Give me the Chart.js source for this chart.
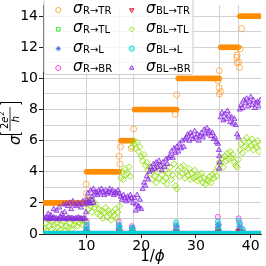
<!DOCTYPE html>
<html><head><meta charset="utf-8">
<style>html,body{margin:0;padding:0;background:#fff;overflow:hidden}canvas{display:block}</style>
<script src="https://cdn.jsdelivr.net/npm/chart.js@4.4.0/dist/chart.umd.min.js"></script>
</head><body>
<canvas id="c" width="266" height="266" style="width:266px;height:266px"></canvas>
<script>
// ---- data ----
const phiInv = [
 2.25,2.5,2.75,3,3.25,3.5,3.75,4,4.25,4.5,4.75,5,5.25,5.5,5.75,6,6.25,6.5,6.75,7,7.25,7.5,7.75,8,8.25,8.5,8.75,9,9.25,9.5,9.75,
 10,10.25,10.5,10.75,11,11.25,11.5,11.75,12,12.25,12.5,12.75,13,13.25,13.5,13.75,14,14.25,14.5,14.75,15,15.25,15.5,15.75,16,
 16.25,16.5,16.75,17,17.25,17.5,17.75,18,18.25,18.5,
 18.75,19,19.25,19.5,19.75,20,20.25,20.5,20.75,21,21.25,21.5,21.75,22,22.25,22.5,22.75,23,23.25,23.5,23.75,24,24.25,24.5,24.75,25,25.25,25.5,25.75,26,26.25,26.5,
 26.75,27,27.25,27.5,27.75,28,28.25,28.5,28.75,29,29.25,29.5,29.75,30,30.25,30.5,30.75,31,31.25,31.5,31.75,32,32.25,32.5,32.75,33,33.25,33.5,33.75,34,34.25,
 34.5,34.75,35,35.25,35.5,35.75,36,36.25,36.5,36.75,37,37.25,37.5,37.75,
 38,38.25,38.5,38.75,39,39.25,39.5,39.75,40,40.25,40.5,40.75,41,41.25,41.5,41.75
];
const sigR_TR = [
 2,2,2,2,2,2,2,2,2,2,2,2,2,2,2,2,2,2,2,2,2,2,2,2,2,2,2,2,2,2,2,
 4,4,4,4,4,4,4,4,4,4,4,4,4,4,4,4,4,4,4,4,4,4,4,4,4,
 6,6,6,6,6,6,6,6,6,6,
 8,8,8,8,8,8,8,8,8,8,8,8,8,8,8,8,8,8,8,8,8,8,8,8,8,8,8,8,8,8,8,8,
 10,10,10,10,10,10,10,10,10,10,10,10,10,10,10,10,10,10,10,10,10,10,10,10,10,10,10,10,10,10,10,
 12,12,12,12,12,12,12,12,12,12,12,12,12,12,
 14,14,14,14,14,14,14,14,14,14,14,14,14,14,14,14
];
const sigR_TR_outX = [9.95,9.95,10.0,16.1,16.2,15.95,18.6,18.2,26.45,26.2,34.05,34.2,34.5,34.25,34.25,37.45,37.5,37.5,37.8,37.95,38.35,38.05];
const sigR_TR_outY = [3.2,2.6,2.2,4.5,5.6,5.0,6.75,5.5,8.95,7.7,9.85,9.4,9.15,10.5,9.0,11.35,11.0,11.5,11.05,10.7,13.2,11.9];

const sigBL_TL = [
 0.4,0.7,0.2,0.9,0.5,0.3,0.8,0.6,0.1,0.7,0.4,0.9,0.3,0.6,0.8,0.2,0.5,1.0,0.4,0.7,0.3,0.9,0.6,0.8,0.5,1.0,0.7,0.9,0.6,1.0,0.8,
 2.0,1.6,2.2,1.8,1.4,2.1,1.7,1.9,1.3,1.6,1.2,1.5,1.0,1.4,1.7,1.1,1.5,1.3,0.9,1.4,1.2,1.6,1.0,1.4,1.8,
 3.6,4.0,3.5,4.2,3.8,3.9,4.3,3.7,5.6,6.0,
 5.8,5.5,5.9,5.3,5.6,5.0,4.7,5.1,4.4,4.6,4.1,4.3,3.9,3.5,4.2,3.7,3.3,4.0,3.6,4.4,3.8,3.4,4.1,3.6,3.2,3.9,4.3,3.5,3.8,4.5,3.1,2.9,
 4.1,3.7,4.3,3.9,4.4,3.6,4.0,3.8,4.2,3.5,3.9,3.6,4.1,3.7,3.4,3.8,3.5,3.9,3.3,3.6,3.2,3.5,3.4,3.7,3.3,3.8,3.6,4.0,3.7,4.3,4.6,
 4.5,4.9,4.3,5.0,4.7,5.2,4.8,5.3,4.9,5.1,4.6,4.4,4.3,4.8,
 5.4,5.8,5.2,6.0,5.6,6.2,5.5,5.9,5.7,6.1,5.4,5.8,5.6,6.0,5.3,5.7
];
const sigBL_BR = [
 1.0,1.0,1.05,1.0,0.95,1.0,1.0,1.05,1.0,1.0,0.95,1.0,1.05,1.0,1.0,1.0,0.95,1.0,1.05,1.0,1.0,1.0,0.95,1.0,1.0,1.05,1.0,1.0,0.95,1.0,1.0,
 2.2,2.6,2.0,2.8,2.4,2.9,2.6,2.7,2.5,2.8,2.6,2.9,2.7,2.5,2.8,2.6,2.7,2.9,2.6,2.8,2.5,2.7,2.6,2.8,2.6,
 2.4,2.2,2.5,2.3,2.1,2.4,2.2,2.5,2.3,2.0,
 2.3,1.9,2.5,1.7,2.2,1.6,2.9,3.3,3.1,3.7,3.5,4.0,4.3,4.1,4.5,4.2,4.6,4.3,4.7,4.4,4.1,4.6,4.3,4.8,4.5,4.9,5.0,5.3,4.9,5.5,5.2,5.6,
 5.3,5.8,5.5,6.0,5.6,6.1,6.2,6.4,6.0,6.5,6.3,6.1,6.6,6.2,6.4,6.0,6.3,6.5,6.2,6.7,6.4,6.8,6.5,6.6,6.3,6.5,6.1,6.2,5.9,5.8,5.0,
 7.5,7.8,7.3,7.7,7.4,7.9,7.6,7.2,7.5,7.1,7.4,7.0,6.4,6.2,
 8.0,8.3,8.1,8.6,8.4,8.7,8.2,8.5,8.8,8.3,8.6,8.1,8.4,8.5,8.2,8.6
];
const sigBL_BR_outX = [3.0,3.5,4.0,4.5,5.0,5.5,5.8,6.0,6.3,6.6,6.9,7.2,7.5,7.8,8.1,8.4,8.7,9.0,9.3,9.6,9.9,10.1,10.4,10.7,11.0,11.3,34.2,34.3,34.2,19.0,19.5];
const sigBL_BR_outY = [1.3,1.2,1.6,1.5,1.7,1.3,1.9,1.4,1.95,1.8,2.0,1.6,2.1,1.9,1.8,2.0,1.9,1.7,2.1,1.9,1.4,2.0,2.1,1.95,2.2,2.0,4.2,4.6,5.4,1.5,1.8];

const sigR_TL = [
 0,0,0,0,0,0,0,0,0,0,0,0,0,0,0,0,0,0,0,0,0,0,0,0,0,0,0,0,0,0,0,0,0,0,0,0,0,0,0,0,
 0,0,0,0,0,0,0,0,0,0,0,0,0,0,0,0,0,0,0,0,0,0,0,0,0,0,0,0,0,0,0,0,0,0,0,0,0,0,0,0,
 0,0,0,0,0,0,0,0,0,0,0,0,0,0,0,0,0,0,0,0,0,0,0,0,0,0,0,0,0,0,0,0,0,0,0,0,0,0,0,0,
 0,0,0,0,0,0,0,0,0,0,0,0,0,0,0,0,0,0,0,0,0,0,0,0,0,0,0,0,0,0,0,0,0,0,0,0,0,0,0
];
const sigR_L = sigR_TL.slice();
const sigR_BR = sigR_TL.slice();
const sigBL_TR = sigR_TL.slice();
const sigBL_L = [
 0.01,0.01,0.01,0.01,0.01,0.01,0.01,0.01,0.01,0.01,0.01,0.01,0.01,0.01,0.01,0.01,0.01,0.01,0.01,0.01,
 0.01,0.01,0.01,0.01,0.01,0.01,0.01,0.01,0.01,0.01,0.01,0.01,0.01,0.01,0.01,0.01,0.01,0.01,0.01,0.01,
 0.01,0.01,0.01,0.01,0.01,0.01,0.01,0.01,0.01,0.01,0.01,0.01,0.01,0.01,0.01,0.01,0.01,0.01,0.01,0.01,
 0.01,0.01,0.01,0.01,0.01,0.01,0.01,0.01,0.01,0.01,0.01,0.01,0.01,0.01,0.01,0.01,0.01,0.01,0.01,0.01,
 0.01,0.01,0.01,0.01,0.01,0.01,0.01,0.01,0.01,0.01,0.01,0.01,0.01,0.01,0.01,0.01,0.01,0.01,0.01,0.01,
 0.01,0.01,0.01,0.01,0.01,0.01,0.01,0.01,0.01,0.01,0.01,0.01,0.01,0.01,0.01,0.01,0.01,0.01,0.01,0.01,
 0.01,0.01,0.01,0.01,0.01,0.01,0.01,0.01,0.01,0.01,0.01,0.01,0.01,0.01,0.01,0.01,0.01,0.01,0.01,0.01,
 0.01,0.01,0.01,0.01,0.01,0.01,0.01,0.01,0.01,0.01,0.01,0.01,0.01,0.01,0.01,0.01,0.01,0.01,0.01
];
// spikes of the small channels at the plateau transitions
const spikeX    = [9.95,10.05,10.15,15.9,16.0,16.1,18.3,18.4,18.5,26.35,26.45,26.55,34.0,34.1,34.2,37.8,38.0,38.5];
const spikeR_TL = [0.3,0.1,0.0,0.3,0.2,0.0,0.2,0.1,0.0,0.2,0.1,0.0,0.35,0.15,0.0,0.2,0.1,0.05];
const spikeR_L  = [0.2,0.4,0.1,0.3,0.5,0.1,0.2,0.4,0.1,0.3,0.5,0.1,0.4,0.6,0.1,0.3,0.5,0.2];
const spikeR_BR = [0.5,0.8,0.2,0.8,0.5,0.2,0.5,0.3,0.1,0.55,0.35,0.1,1.1,0.6,0.2,1.0,0.7,0.3];
const spikeBL_TR= [0.1,0.15,0.05,0.1,0.2,0.05,0.1,0.15,0.05,0.1,0.15,0.05,0.15,0.2,0.05,0.2,0.1,0.05];
const spikeBL_L = [0.3,0.6,0.15,0.6,0.4,0.15,0.4,0.25,0.1,0.75,0.5,0.15,0.8,0.5,0.2,0.85,0.6,0.3];

const xTickLabels = [10,20,30,40];
const xGridLines = [10,16.1,18.6,26.55,34.25,37.8];
const yTicks = [0,1,2,3,4,5,6,7,8,9,10,11,12,13,14];
const yTickLabels = [0,2,4,6,8,10,12,14];
const legendSubs = ['R\u2192TR','R\u2192TL','R\u2192L','R\u2192BR','BL\u2192TR','BL\u2192TL','BL\u2192L','BL\u2192BR'];
const xTitleMain = '1/', xTitleVar = '\u03d5';

// ---- build datasets ----
function pts(xs, ys){ return xs.map((x,i)=>({x:x, y:ys[i]})); }
const styles = [
 {pointStyle:'circle',   border:'rgba(255,140,0,0.75)',  bg:'rgba(255,140,0,0)',    r:3,   rot:0},
 {pointStyle:'rect',     border:'rgba(20,230,20,0.8)',   bg:'rgba(20,230,20,0.1)',  r:2.6, rot:0},
 {pointStyle:'star',     border:'rgba(65,105,225,0.9)',  bg:'rgba(65,105,225,0.3)', r:3.2, rot:0},
 {pointStyle:'circle',   border:'rgba(240,60,220,0.8)',  bg:'rgba(240,60,220,0.1)', r:2.6, rot:0},
 {pointStyle:'triangle', border:'rgba(220,20,60,0.9)',   bg:'rgba(220,20,60,0.4)',  r:3,   rot:180},
 {pointStyle:'rectRot',  border:'rgba(140,220,0,0.8)',   bg:'rgba(140,220,0,0.08)', r:3.2, rot:0},
 {pointStyle:'circle',   border:'rgba(0,215,215,0.9)',   bg:'rgba(0,215,215,0.3)',  r:2.5, rot:0},
 {pointStyle:'triangle', border:'rgba(138,43,226,0.8)',  bg:'rgba(138,43,226,0.3)', r:3,   rot:0}
];
const series = [
 pts(phiInv, sigR_TR).concat(pts(sigR_TR_outX, sigR_TR_outY)),
 pts(phiInv, sigR_TL).concat(pts(spikeX, spikeR_TL)),
 pts(phiInv, sigR_L).concat(pts(spikeX, spikeR_L)),
 pts(phiInv, sigR_BR).concat(pts(spikeX, spikeR_BR)),
 pts(phiInv, sigBL_TR).concat(pts(spikeX, spikeBL_TR)),
 pts(phiInv, sigBL_TL),
 pts(phiInv, sigBL_L).concat(pts(spikeX, spikeBL_L)),
 pts(phiInv, sigBL_BR).concat(pts(sigBL_BR_outX, sigBL_BR_outY))
];
const datasets = series.map((d,i)=>({
  label: legendSubs[i], data: d, showLine:false,
  pointStyle: styles[i].pointStyle, pointRadius: styles[i].r, pointRotation: styles[i].rot,
  pointBorderWidth: 1, borderColor: styles[i].border, backgroundColor: styles[i].bg,
  pointBorderColor: styles[i].border, pointBackgroundColor: styles[i].bg,
  order: series.length - i, clip: 0
}));
// plateau points of sigma_R->TR overlap into a solid band; outliers stay hollow
datasets[0].pointBackgroundColor = c => c.dataIndex < sigR_TR.length ? 'rgba(255,140,0,0.85)' : 'rgba(255,140,0,0)';
datasets[0].pointBorderColor = c => c.dataIndex < sigR_TR.length ? 'rgba(255,140,0,0.9)' : 'rgba(255,150,30,0.7)';
datasets[0].pointRadius = c => c.dataIndex < sigR_TR.length ? 2.4 : 3;

const FONT = '"DejaVu Sans", sans-serif';
const xTickValues = Array.from(new Set(xTickLabels.concat(xGridLines))).sort((a,b)=>a-b);

const decorations = {
  id: 'decorations',
  afterDatasetsDraw(chart){
    const c = chart.ctx;
    c.save();
    // legend box
    c.beginPath();
    if (c.roundRect) c.roundRect(44, -4, 149, 78.5, 3); else c.rect(44,-4,149,78.5);
    c.fillStyle = 'rgba(255,255,255,0.8)'; c.fill();
    c.strokeStyle = '#cccccc'; c.lineWidth = 1; c.stroke();
    const mx = [58.3, 131.7], tx = [73, 146], ry = [10, 29.3, 48.6, 68];
    for (let i=0;i<8;i++){
      const col = i<4?0:1, row = i%4, s = styles[i];
      c.fillStyle = i===0 ? 'rgba(255,140,0,0)' : s.bg; c.strokeStyle = s.border; c.lineWidth = 1;
      Chart.helpers.drawPoint(c, {pointStyle:s.pointStyle, radius:2.6, rotation:s.rot, borderWidth:1}, mx[col], ry[row]);
      c.fillStyle = '#000'; c.textBaseline = 'alphabetic'; c.textAlign = 'left';
      c.font = 'italic 15px ' + FONT;
      c.fillText('\u03c3', tx[col], ry[row]+3);
      const w = c.measureText('\u03c3').width;
      c.font = '10px ' + FONT;
      c.fillText(legendSubs[i], tx[col]+w+0.5, ry[row]+4);
    }
    c.restore();
  },
  afterDraw(chart){
    const c = chart.ctx;
    c.save();
    c.fillStyle = '#000'; c.strokeStyle = '#000';
    c.textBaseline = 'alphabetic'; c.textAlign = 'left';
    // x title
    c.font = '15px ' + FONT; const wa = c.measureText(xTitleMain).width;
    c.font = 'italic 15px ' + FONT; const wb = c.measureText(xTitleVar).width;
    const ca = chart.chartArea; const cx = (ca.left + ca.right)/2 + 0.5;
    let x0 = cx - (wa+wb)/2;
    c.font = '15px ' + FONT; c.fillText(xTitleMain, x0, 261);
    c.font = 'italic 15px ' + FONT; c.fillText(xTitleVar, x0+wa, 261);
    // y title  sigma [2e^2/h], rotated
    c.translate(19.5, 145); c.rotate(-Math.PI/2);
    c.font = 'italic 15px ' + FONT; c.fillText('\u03c3', 0, 0);
    c.lineWidth = 1;
    c.beginPath();
    c.moveTo(12.5,-19); c.lineTo(10.5,-19); c.lineTo(10.5,2); c.lineTo(12.5,2);
    c.moveTo(40.5,-19); c.lineTo(42.5,-19); c.lineTo(42.5,2); c.lineTo(40.5,2);
    c.stroke();
    c.beginPath(); c.lineWidth = 0.8; c.moveTo(14,-9.5); c.lineTo(38,-9.5); c.stroke();
    c.font = '10px ' + FONT; c.fillText('2', 16, -11.5);
    const w2 = c.measureText('2').width;
    c.font = 'italic 10px ' + FONT; c.fillText('e', 16+w2, -11.5);
    const we = c.measureText('e').width;
    c.font = '7px ' + FONT; c.fillText('2', 16+w2+we+0.5, -15.5);
    c.font = 'italic 10px ' + FONT; const wh = c.measureText('h').width;
    c.fillText('h', 26 - wh/2, -0.5);
    c.restore();
  }
};

new Chart(document.getElementById('c'), {
  type: 'scatter',
  data: { datasets: datasets },
  options: {
    responsive: false, animation: false, devicePixelRatio: 1,
    layout: { padding: 0 },
    plugins: { legend: { display: false }, tooltip: { enabled: false } },
    scales: {
      x: {
        type: 'linear', min: 2.05, max: 41.875,
        afterBuildTicks: s => { s.ticks = xTickValues.map(v => ({value: v})); },
        afterFit: s => { s.height = 32; s.paddingLeft = 0; s.paddingRight = 0; s.paddingTop = 0; s.paddingBottom = 0; },
        ticks: { autoSkip: false, maxRotation: 0, minRotation: 0, padding: 0, color: '#000',
          font: { family: FONT, size: 14 },
          callback: v => xTickLabels.includes(v) ? String(v) : '' },
        grid: { color: c => (c.tick && xGridLines.includes(c.tick.value)) ? '#d2d2d2' : 'rgba(0,0,0,0)',
          tickColor: c => (c.tick && xTickLabels.includes(c.tick.value)) ? '#222' : 'rgba(0,0,0,0)',
          tickLength: 4, lineWidth: 1 },
        border: { display: true, color: '#333', width: 1 }
      },
      y: {
        type: 'linear', min: 0, max: 14.72,
        afterBuildTicks: s => { s.ticks = yTicks.map(v => ({value: v})); },
        afterFit: s => { s.width = 43; s.paddingLeft = 0; s.paddingRight = 0; s.paddingTop = 0; s.paddingBottom = 0; },
        ticks: { autoSkip: false, padding: 1, color: '#000', font: { family: FONT, size: 14 },
          callback: v => yTickLabels.includes(v) ? String(v) : '' },
        grid: { color: '#d2d2d2', lineWidth: 1,
          tickColor: c => (c.tick && yTickLabels.includes(c.tick.value)) ? '#222' : 'rgba(0,0,0,0)',
          tickLength: 4 },
        border: { display: true, color: '#333', width: 1 }
      }
    }
  },
  plugins: [decorations]
});
</script>
</body></html>
